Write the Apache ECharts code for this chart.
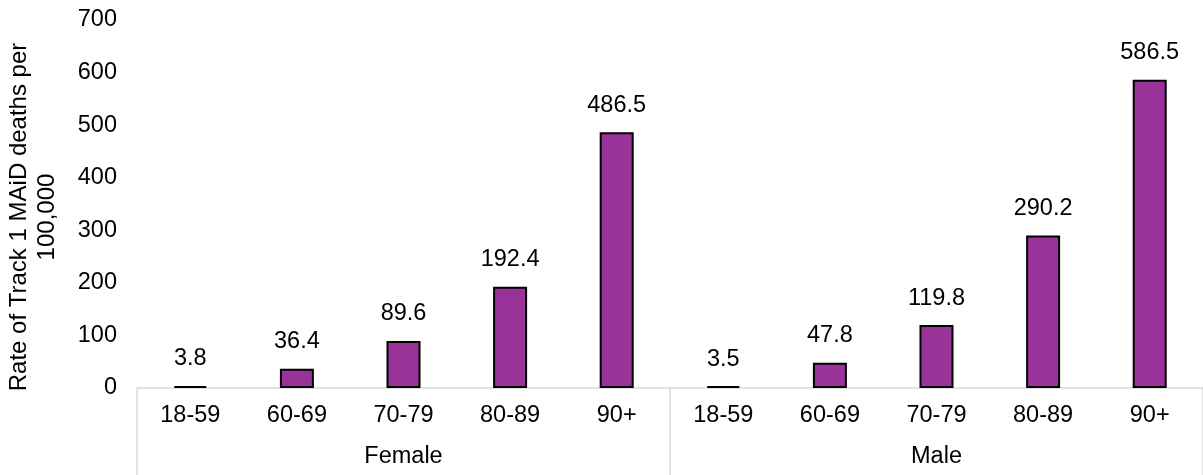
<!DOCTYPE html>
<html>
<head>
<meta charset="utf-8">
<script src="https://cdn.jsdelivr.net/npm/echarts@6/dist/echarts.min.js"></script>
<style>
  html, body { margin: 0; padding: 0; background: #fff; }
  #chart { width: 1203px; height: 475px; }
</style>
</head>
<body>
<div id="chart"></div>
<script>
// Track 1 MAiD death rates per 100,000 by sex and age group
const ageGroups = ['18-59', '60-69', '70-79', '80-89', '90+'];
const sexes = ['Female', 'Male'];
const femaleRates = [3.8, 36.4, 89.6, 192.4, 486.5];
const maleRates = [3.5, 47.8, 119.8, 290.2, 586.5];
const yTicks = [0, 100, 200, 300, 400, 500, 600, 700];

const FONT = "'Liberation Sans', Arial, sans-serif";
const FS = 23.5;
const GRID_LINE = '#d9d9d9';

const categories = [];
sexes.forEach(() => ageGroups.forEach(a => categories.push(a)));
const values = femaleRates.concat(maleRates);

const chart = echarts.init(document.getElementById('chart'), null, { renderer: 'canvas' });

chart.setOption({
  animation: false,
  backgroundColor: '#ffffff',
  textStyle: { fontFamily: FONT },
  grid: { left: 137, top: 20, width: 1072, height: 368, containLabel: false },
  xAxis: [
    {
      type: 'category',
      data: categories,
      position: 'bottom',
      axisLine: { show: true, lineStyle: { color: GRID_LINE, width: 1.5 }, z: 5 },
      axisTick: { show: false },
      axisLabel: { interval: 0, margin: 16, color: '#000', fontSize: FS, fontFamily: FONT }
    },
    {
      type: 'category',
      data: sexes,
      position: 'bottom',
      axisLine: { show: false },
      axisTick: { show: true, length: 90, interval: 0, lineStyle: { color: GRID_LINE, width: 1.5 } },
      axisLabel: { interval: 0, margin: 57, color: '#000', fontSize: FS, fontFamily: FONT }
    }
  ],
  yAxis: {
    type: 'value',
    min: yTicks[0],
    max: yTicks[yTicks.length - 1],
    interval: 100,
    axisLine: { show: false },
    axisTick: { show: false },
    splitLine: { show: false },
    axisLabel: { margin: 20, color: '#000', fontSize: FS, fontFamily: FONT }
  },
  graphic: [
    {
      type: 'text',
      x: 33,
      y: 217,
      rotation: Math.PI / 2,
      style: {
        text: 'Rate of Track 1 MAiD deaths per\n100,000',
        font: '24px ' + FONT,
        fill: '#000',
        align: 'center',
        verticalAlign: 'middle',
        lineHeight: 28
      }
    }
  ],
  series: [
    {
      type: 'bar',
      xAxisIndex: 0,
      data: values,
      barWidth: 34,
      z: 2,
      itemStyle: { color: '#993399', borderColor: '#000', borderWidth: 2 },
      label: {
        show: true,
        position: 'top',
        distance: 15,
        color: '#000',
        fontSize: FS,
        fontFamily: FONT,
        formatter: p => p.value.toFixed(1)
      }
    }
  ]
});
</script>
</body>
</html>
